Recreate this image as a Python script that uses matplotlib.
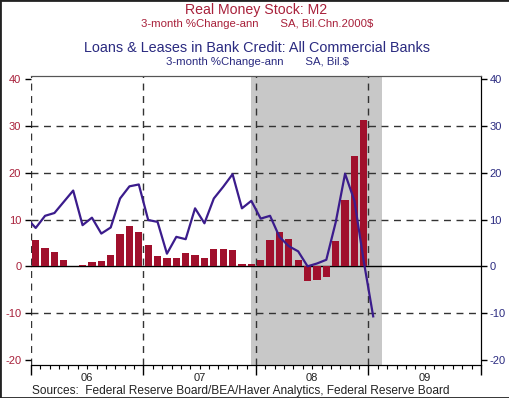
import matplotlib
matplotlib.use('Agg')
import matplotlib.pyplot as plt
import matplotlib.transforms as mtransforms
from matplotlib.patches import Rectangle
import numpy as np

plt.rcParams['font.family'] = ['Liberation Sans', 'DejaVu Sans']

# Real M2, 3-month % change annualized, monthly Jan 2006 .. Dec 2008
m2 = [5.7, 4.0, 3.1, 1.3, 0.1, 0.3, 0.9, 1.1, 2.5, 7.0, 8.6, 7.3,
      4.5, 2.2, 1.8, 1.8, 2.9, 2.5, 1.7, 3.8, 3.8, 3.5, 0.4, 0.6,
      1.3, 5.6, 7.3, 5.9, 1.3, -3.1, -2.9, -2.2, 5.4, 14.2, 23.6, 31.2]
# Loans & leases, 3-month % change annualized, monthly Dec 2005 .. Jan 2009
loans = [10.4,
         8.2, 10.8, 11.4, 13.8, 16.2, 8.8, 10.4, 7.0, 8.3, 14.5, 17.1, 17.5,
         9.9, 9.5, 2.7, 6.3, 5.8, 12.4, 9.2, 14.5, 17.0, 19.7, 12.4, 14.0,
         10.2, 10.8, 6.3, 4.3, 3.2, 0.0, 0.6, 1.4, 9.4, 19.8, 14.0, 1.0,
         -10.7]
year_labels = ['06', '07', '08', '09']
shade = (23.5, 37.4)  # months since Jan 2006

red = '#A0102C'
navy = '#3B1C8C'
red_txt = '#A8203A'
navy_txt = '#2A2A80'

fig = plt.figure(figsize=(5.10, 3.98), dpi=100)
ax = fig.add_axes([31 / 510, 33 / 398, 450 / 510, 289.5 / 398])

x_bar = np.arange(len(m2)) + 0.5
x_line = np.arange(len(loans)) - 0.5

ax.axvspan(shade[0], shade[1], color='#C8C8C8', zorder=0, lw=0)
for yv in [-10, 10, 20, 30]:
    ax.axhline(yv, color='#333333', lw=1, ls=(0, (5, 4)), zorder=1)
for xv in [0, 12, 24, 36]:
    ax.axvline(xv, color='#333333', lw=1, ls=(0, (5, 4)), zorder=1)
ax.axhline(0, color='black', lw=1, zorder=2)

ax.bar(x_bar, m2, width=0.78, color=red, zorder=3)
ax.plot(x_line, loans, color=navy, lw=1.6, zorder=4, clip_on=True)

ax.set_xlim(0, 48)
ax.set_ylim(-21.1, 40.8)

ax.set_xticks([0, 12, 24, 36, 48])
ax.set_xticklabels([])
ax.set_xticks(np.arange(0, 49), minor=True)
ax.tick_params(axis='x', which='major', length=7.5, width=1, direction='out')
ax.tick_params(axis='x', which='minor', length=3, width=0.8, direction='out')
trans = mtransforms.blended_transform_factory(ax.transData, ax.transAxes)
for i, lab in enumerate(year_labels):
    ax.text(6 + 12 * i, -0.045, lab, transform=trans, ha='center', va='center',
            fontsize=8, color='#222222')

yt = [-20, -10, 0, 10, 20, 30, 40]
ax.set_yticks(yt)
ax.set_yticklabels([str(v) for v in yt])
ax.tick_params(axis='y', length=4, width=1, labelsize=8, labelcolor=red_txt,
               pad=3)

ax2 = ax.twinx()
ax2.set_ylim(ax.get_ylim())
ax2.set_yticks(yt)
ax2.set_yticklabels([str(v) for v in yt])
ax2.tick_params(axis='y', length=4, width=1, labelsize=8, labelcolor=navy_txt,
                pad=2)

for a in (ax, ax2):
    a.spines['left'].set_visible(False)
    a.spines['top'].set_color('#555555')
    a.spines['right'].set_color('black')
    a.spines['bottom'].set_color('black')

fig.text(0.502, 0.976, 'Real Money Stock: M2', ha='center', va='center',
         fontsize=10.2, color=red_txt)
fig.text(0.504, 0.940, '3-month %Change-ann       SA, Bil.Chn.2000$',
         ha='center', va='center', fontsize=8.2, color=red_txt)
fig.text(0.504, 0.879, 'Loans & Leases in Bank Credit: All Commercial Banks',
         ha='center', va='center', fontsize=10.4, color=navy_txt)
fig.text(0.504, 0.844, '3-month %Change-ann       SA, Bil.$',
         ha='center', va='center', fontsize=8.2, color=navy_txt)
fig.text(32 / 510, 0.018,
         'Sources:  Federal Reserve Board/BEA/Haver Analytics, Federal Reserve Board',
         ha='left', va='center', fontsize=8.6, color='#222222')

fig.patches.append(Rectangle((0, 0), 1, 1, transform=fig.transFigure,
                             fill=False, edgecolor='#222222', lw=2))

fig.savefig('out.png', dpi=100)
